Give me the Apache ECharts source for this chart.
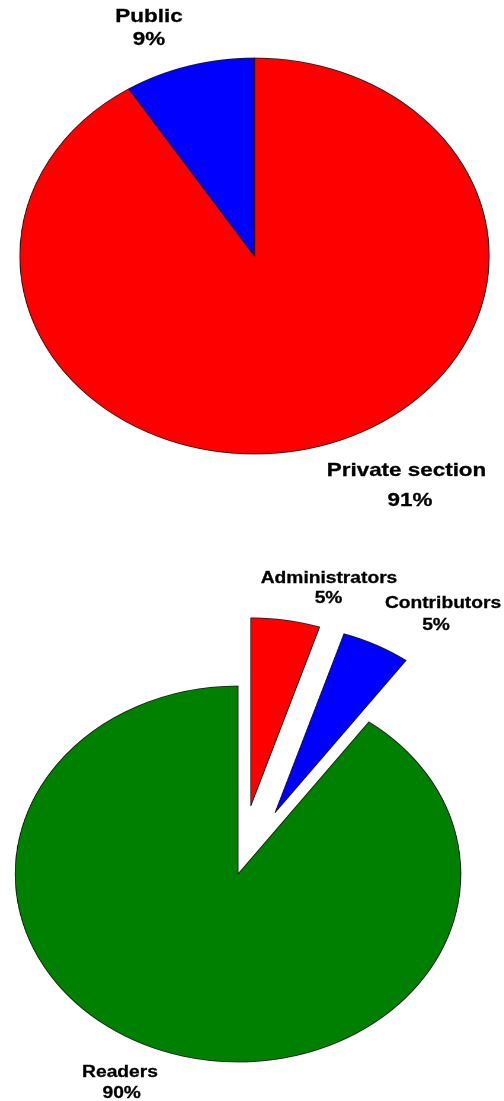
<!DOCTYPE html>
<html>
<head>
<meta charset="utf-8">
<script src="https://cdn.jsdelivr.net/npm/echarts@6/dist/echarts.min.js"></script>
<style>
html, body { margin: 0; padding: 0; background: #fff; width: 504px; height: 1101px; overflow: hidden; }
#pies { position: absolute; left: 0; top: 0; height: 1101px; transform-origin: 0 0; }
#labels { position: absolute; left: 0; top: 0; width: 504px; height: 1101px; }
</style>
</head>
<body>
<div id="pies"></div>
<div id="labels"></div>
<script>
// ---- data ----
const accessNames = ['Private section', 'Public'];
const accessValues = [91, 9];
const roleNames = ['Administrators', 'Contributors', 'Readers'];
const roleValues = [5, 5, 90];

// ---- styles / layout ----
const accessColors = ['#ff0000', '#0000ff'];
const roleColors = ['#ff0000', '#0000ff', '#008000'];
const SX = 1.185; // horizontal stretch of the pies (ellipse look)

const piesDom = document.getElementById('pies');
piesDom.style.width = (504 / SX) + 'px';
piesDom.style.transform = 'scaleX(' + SX + ')';

const pies = echarts.init(piesDom, null, { renderer: 'canvas', devicePixelRatio: 2 });
const border = { borderColor: '#1a1a1a', borderWidth: 0.8 };

pies.setOption({
  animation: false,
  backgroundColor: 'transparent',
  series: [
    {
      type: 'pie',
      center: [254.5 / SX, 256],
      radius: 198,
      startAngle: 90,
      clockwise: true,
      label: { show: false },
      labelLine: { show: false },
      emphasis: { disabled: true },
      data: accessNames.map((n, i) => ({ name: n, value: accessValues[i], itemStyle: Object.assign({ color: accessColors[i] }, border) }))
    },
    {
      type: 'pie',
      center: [238 / SX, 874],
      radius: 188,
      startAngle: 90,
      clockwise: true,
      selectedMode: 'multiple',
      selectedOffset: 69,
      label: { show: false },
      labelLine: { show: false },
      emphasis: { disabled: true },
      data: roleNames.map((n, i) => ({ name: n, value: roleValues[i], selected: i < 2, itemStyle: Object.assign({ color: roleColors[i] }, border) }))
    }
  ]
});

// ---- labels ----
const accessLabelPos = [ // [name x, name y, pct x, pct y]
  [406.5, 471, 410, 501],
  [149, 17, 149, 39.5]
];
const roleLabelPos = [
  [329, 579, 328.5, 599],
  [443, 604, 436, 625.5],
  [120, 1073, 121.7, 1093.3]
];

function txt(s, x, y, size, sx) {
  return {
    type: 'text', x: x, y: y, scaleX: sx, silent: true,
    style: {
      text: s, x: 0, y: 0,
      align: 'center', verticalAlign: 'middle',
      textAlign: 'center', textVerticalAlign: 'middle',
      fontFamily: 'Liberation Sans, Arial, sans-serif', fontWeight: 'bold',
      fontSize: size, fill: '#000', stroke: '#000', lineWidth: 0.3
    }
  };
}
const els = [];
accessNames.forEach((n, i) => {
  const p = accessLabelPos[i];
  els.push(txt(n, p[0], p[1], 19, 1.18));
  els.push(txt(accessValues[i] + '%', p[2], p[3], 19, 1.18));
});
roleNames.forEach((n, i) => {
  const p = roleLabelPos[i];
  els.push(txt(n, p[0], p[1], 16, 1.2));
  els.push(txt(roleValues[i] + '%', p[2], p[3], 16, 1.2));
});

const labels = echarts.init(document.getElementById('labels'), null, { renderer: 'canvas' });
labels.setOption({ animation: false, backgroundColor: 'transparent', graphic: { elements: els } });
</script>
</body>
</html>
